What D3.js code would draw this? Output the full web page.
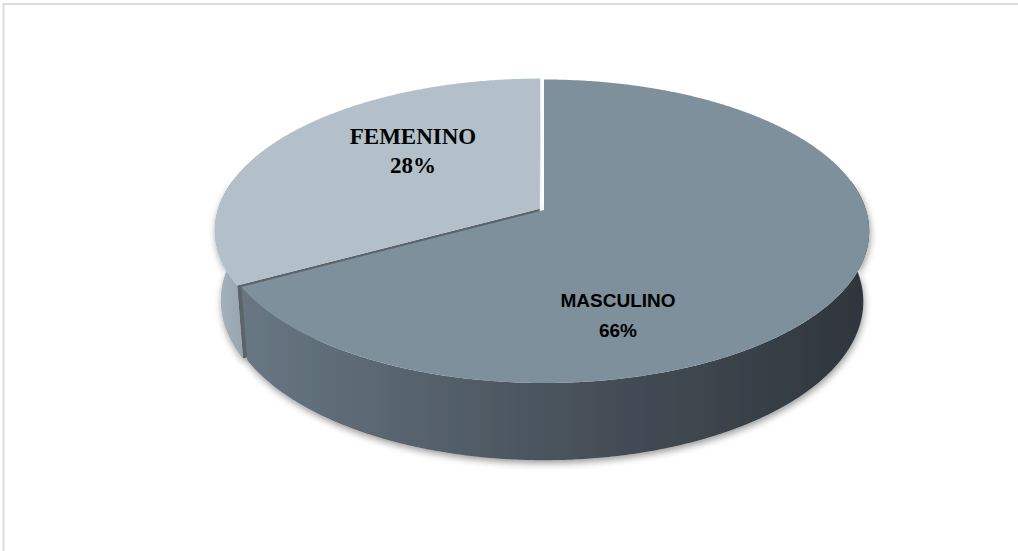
<!DOCTYPE html>
<html>
<head>
<meta charset="utf-8">
<script src="https://cdn.jsdelivr.net/npm/d3@7"></script>
<style>
  body { margin: 0; background: #fff; }
  text { font-weight: bold; fill: #000; }
</style>
</head>
<body>
<script>
// chart data
const categories = ["MASCULINO", "FEMENINO"];
const valueLabels = ["66%", "28%"];
// slice sizes as drawn in the picture (the printed labels do not add up to 100)
const sliceShares = [67, 33];

const width = 1018, height = 551;

// 3d pie geometry (camera looks down at the disc with some perspective)
const cx = 544, cy = 210;
const R = 322, depth = 80;
const sinA = 0.462, cosA = Math.sqrt(1 - sinA * sinA);
const D = 2040;
const explode = [0, 5];

const topColors = ["#7e909c", "#b3c0c9"];
const sideColors = ["url(#sideMasc)", "url(#sideFem)"];
const faceColors = ["#4a545d", "#a3b0ba"];
const labelFonts = [
  { family: "'Liberation Sans', Arial, sans-serif", size: 19, gap: 30 },
  { family: "'Liberation Serif', 'Times New Roman', serif", size: 23, gap: 29 }
];
const labelAnchors = [[618, 307], [413, 144]];

const svg = d3.select("body")
    .append("svg")
    .attr("width", width)
    .attr("height", height);

const defs = svg.append("defs");

const grad = defs.append("linearGradient")
    .attr("id", "sideMasc")
    .attr("gradientUnits", "userSpaceOnUse")
    .attr("x1", 240).attr("x2", 870)
    .attr("y1", 0).attr("y2", 0);
grad.append("stop").attr("offset", 0).attr("stop-color", "#687783");
grad.append("stop").attr("offset", 0.48).attr("stop-color", "#4a545d");
grad.append("stop").attr("offset", 1).attr("stop-color", "#2e353c");

const gradF = defs.append("linearGradient")
    .attr("id", "sideFem")
    .attr("gradientUnits", "userSpaceOnUse")
    .attr("x1", 210).attr("x2", 245)
    .attr("y1", 0).attr("y2", 0);
gradF.append("stop").attr("offset", 0).attr("stop-color", "#aab6c0");
gradF.append("stop").attr("offset", 1).attr("stop-color", "#97a4ae");

const shadow = defs.append("filter")
    .attr("id", "shadow")
    .attr("x", "-10%").attr("y", "-10%")
    .attr("width", "120%").attr("height", "130%");
shadow.append("feDropShadow")
    .attr("dx", 1).attr("dy", 3)
    .attr("stdDeviation", 3.5)
    .attr("flood-color", "#000")
    .attr("flood-opacity", 0.4);

// frame of the chart area (only top and left edges are inside the picture)
svg.append("rect")
    .attr("x", 3.5).attr("y", 4)
    .attr("width", width + 20).attr("height", height + 20)
    .attr("fill", "none")
    .attr("stroke", "#dcdcdc")
    .attr("stroke-width", 2);

const slices = d3.pie().sort(null).value(d => d)(sliceShares);

// angle phi is clockwise from the far side (12 o'clock), z goes down
function project(phi, r, z, off) {
  const u = off[0] + r * Math.sin(phi);
  const w = off[1] - r * Math.cos(phi);
  const k = D / (D - (w * cosA - z * sinA));
  return [cx + u * k, cy + (w * sinA + z * cosA) * k];
}

function arcPoints(a0, a1, z, off) {
  const step = Math.PI / 360;
  const n = Math.max(2, Math.ceil((a1 - a0) / step));
  return d3.range(n + 1).map(i => project(a0 + (a1 - a0) * i / n, R, z, off));
}

const line = d3.line().curve(d3.curveLinearClosed);

slices.forEach((s, i) => {
  const mid = (s.startAngle + s.endAngle) / 2;
  s.off = [explode[i] * Math.sin(mid), -explode[i] * Math.cos(mid)];
});

const walls = svg.append("g").attr("filter", "url(#shadow)");

// draw the far slice first so the near one covers it
const order = [1, 0];
order.forEach(i => {
  const s = slices[i];
  // radial cut faces, only those turned to the camera
  [[s.startAngle, 1], [s.endAngle, -1]].forEach(([a, sign]) => {
    const quad = [
      project(0, 0, 0, s.off),
      project(a, R, 0, s.off),
      project(a, R, depth, s.off),
      project(0, 0, depth, s.off)
    ];
    if (sign * d3.polygonArea(quad) > 0.5) {
      walls.append("path")
          .attr("d", line(quad))
          .attr("fill", sign > 0 ? d3.color(faceColors[i]).darker(1.6) : d3.color(faceColors[i]).darker(0.3));
    }
  });
  // outer curved wall, front half only
  const a0 = Math.max(s.startAngle, Math.PI / 2 - 0.2);
  const a1 = Math.min(s.endAngle, 3 * Math.PI / 2 + 0.2);
  if (a1 > a0) {
    const pts = arcPoints(a0, a1, 0, s.off).concat(arcPoints(a0, a1, depth, s.off).reverse());
    walls.append("path")
        .attr("d", line(pts))
        .attr("fill", sideColors[i]);
  }
});

// top faces
order.forEach(i => {
  const s = slices[i];
  const pts = [project(0, 0, 0, s.off)].concat(arcPoints(s.startAngle, s.endAngle, 0, s.off));
  svg.append("path")
      .attr("d", line(pts))
      .attr("fill", topColors[i]);
});

// data labels
slices.forEach((s, i) => {
  const f = labelFonts[i];
  const t = svg.append("text")
      .attr("text-anchor", "middle")
      .attr("font-family", f.family)
      .attr("font-size", f.size);
  t.append("tspan")
      .attr("x", labelAnchors[i][0]).attr("y", labelAnchors[i][1])
      .text(categories[i]);
  t.append("tspan")
      .attr("x", labelAnchors[i][0]).attr("y", labelAnchors[i][1] + f.gap)
      .text(valueLabels[i]);
});
</script>
</body>
</html>
